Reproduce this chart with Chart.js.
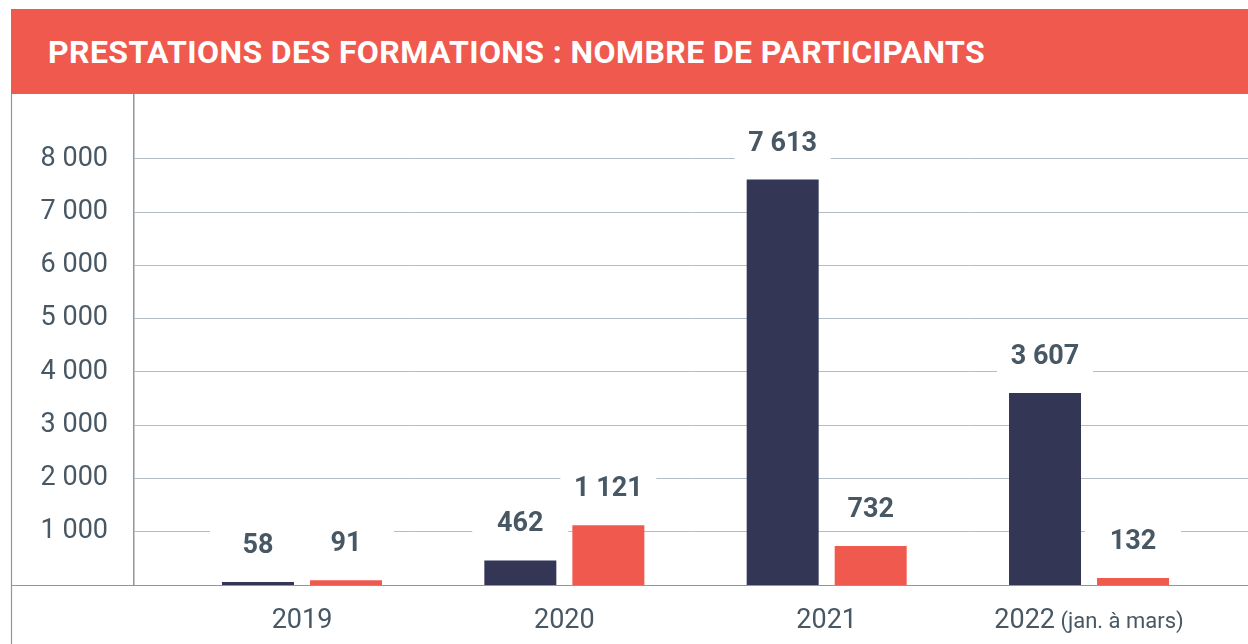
<!DOCTYPE html>
<html lang="fr">
<head>
<meta charset="utf-8">
<title>Prestations des formations : nombre de participants</title>
<script src="https://cdn.jsdelivr.net/npm/chart.js@4.4.1/dist/chart.umd.min.js"></script>
<style>
  html, body { margin: 0; padding: 0; background: #fff; }
  #wrap { position: relative; width: 1248px; height: 644px; overflow: hidden; }
  #header {
    position: absolute; left: 11px; top: 9px; width: 1237px; height: 85px;
    box-sizing: border-box; padding-left: 37px;
    display: flex; align-items: center;
    background: #f05a4e; color: #fff;
    font: 700 32px Roboto, sans-serif; letter-spacing: 0.4px;
  }
  canvas { position: absolute; left: 0; top: 0; }
</style>
</head>
<body>
<div id="wrap">
  <canvas id="chart" width="1248" height="644"></canvas>
  <div id="header">PRESTATIONS DES FORMATIONS : NOMBRE DE PARTICIPANTS</div>
</div>
<script>
const categories = ['2019', '2020', '2021', '2022'];
const categoryNotes = ['', '', '', '(jan. à mars)'];
const seriesDark = [58, 462, 7613, 3607];
const seriesRed = [91, 1121, 732, 132];
const yTicks = [1000, 2000, 3000, 4000, 5000, 6000, 7000, 8000];

const textColor = '#475764';
const lineColor = '#8d979e';

// 7613 -> "7 613"
function fmt(v) {
    return String(v).replace(/\B(?=(\d{3})+(?!\d))/g, ' ');
}

// frame lines, value labels with white boxes, two-size x labels
const decorations = {
    id: 'decorations',
    afterDatasetsDraw(chart) {
        const ctx = chart.ctx;
        const x = chart.scales.x;
        const y = chart.scales.y;
        const base = y.getPixelForValue(0);

        ctx.save();
        ctx.strokeStyle = lineColor;
        ctx.lineWidth = 1.2;
        ctx.beginPath();
        ctx.moveTo(11.5, chart.chartArea.top);
        ctx.lineTo(11.5, chart.height);
        ctx.moveTo(11, base + 0.5);
        ctx.lineTo(chart.width, base + 0.5);
        ctx.stroke();

        // value labels
        const labels = [];
        chart.data.datasets.forEach((ds, di) => {
            chart.getDatasetMeta(di).data.forEach((bar, i) => {
                labels.push({ x: bar.x, y: bar.y - 38.5, text: fmt(ds.data[i].y) });
            });
        });
        ctx.fillStyle = '#fff';
        labels.forEach(l => ctx.fillRect(l.x - 48, l.y - 20, 96, 40));
        ctx.fillStyle = textColor;
        ctx.font = '700 27px Roboto';
        ctx.textAlign = 'center';
        ctx.textBaseline = 'alphabetic';
        labels.forEach(l => ctx.fillText(l.text, l.x, l.y + 9.6));

        // category labels under the axis
        ctx.textAlign = 'left';
        categories.forEach((c, i) => {
            const cx = x.getPixelForValue(i);
            ctx.font = '400 27px Roboto';
            const w1 = ctx.measureText(c).width;
            let w2 = 0;
            const note = categoryNotes[i];
            if (note) {
                ctx.font = '400 22px Roboto';
                w2 = ctx.measureText(' ' + note).width;
            }
            const left = cx - (w1 + w2) / 2;
            ctx.font = '400 27px Roboto';
            ctx.fillText(c, left, 628);
            if (note) {
                ctx.font = '400 22px Roboto';
                ctx.fillText(' ' + note, left + w1, 628);
            }
        });
        ctx.restore();
    }
};

const chart = new Chart(document.getElementById('chart'), {
    type: 'bar',
    data: {
        datasets: [
            {
                label: 'Série 1',
                data: seriesDark.map((v, i) => ({ x: i, y: v })),
                backgroundColor: '#343655'
            },
            {
                label: 'Série 2',
                data: seriesRed.map((v, i) => ({ x: i, y: v })),
                backgroundColor: '#f05a4e'
            }
        ]
    },
    options: {
        responsive: false,
        animation: false,
        categoryPercentage: 0.671,
        barPercentage: 0.818,
        layout: { padding: { top: 94, left: 11, right: 0, bottom: 59 } },
        plugins: {
            legend: { display: false },
            tooltip: { enabled: false }
        },
        scales: {
            x: {
                type: 'linear',
                display: false,
                offset: false,
                min: -0.6404,
                max: 3.606,
                afterBuildTicks: (s) => { s.ticks = categories.map((c, i) => ({ value: i })); }
            },
            y: {
                min: 0,
                max: 9220,
                afterBuildTicks: (s) => { s.ticks = yTicks.map(v => ({ value: v })); },
                afterFit: (s) => { s.width = 123; },
                grid: { color: '#b3bdc5', lineWidth: 1, drawTicks: false },
                border: { display: true, color: lineColor, width: 1.5 },
                ticks: {
                    padding: 26,
                    color: textColor,
                    font: { family: 'Roboto', size: 27 },
                    callback: (v) => fmt(v)
                }
            }
        }
    },
    plugins: [decorations]
});
</script>
</body>
</html>
